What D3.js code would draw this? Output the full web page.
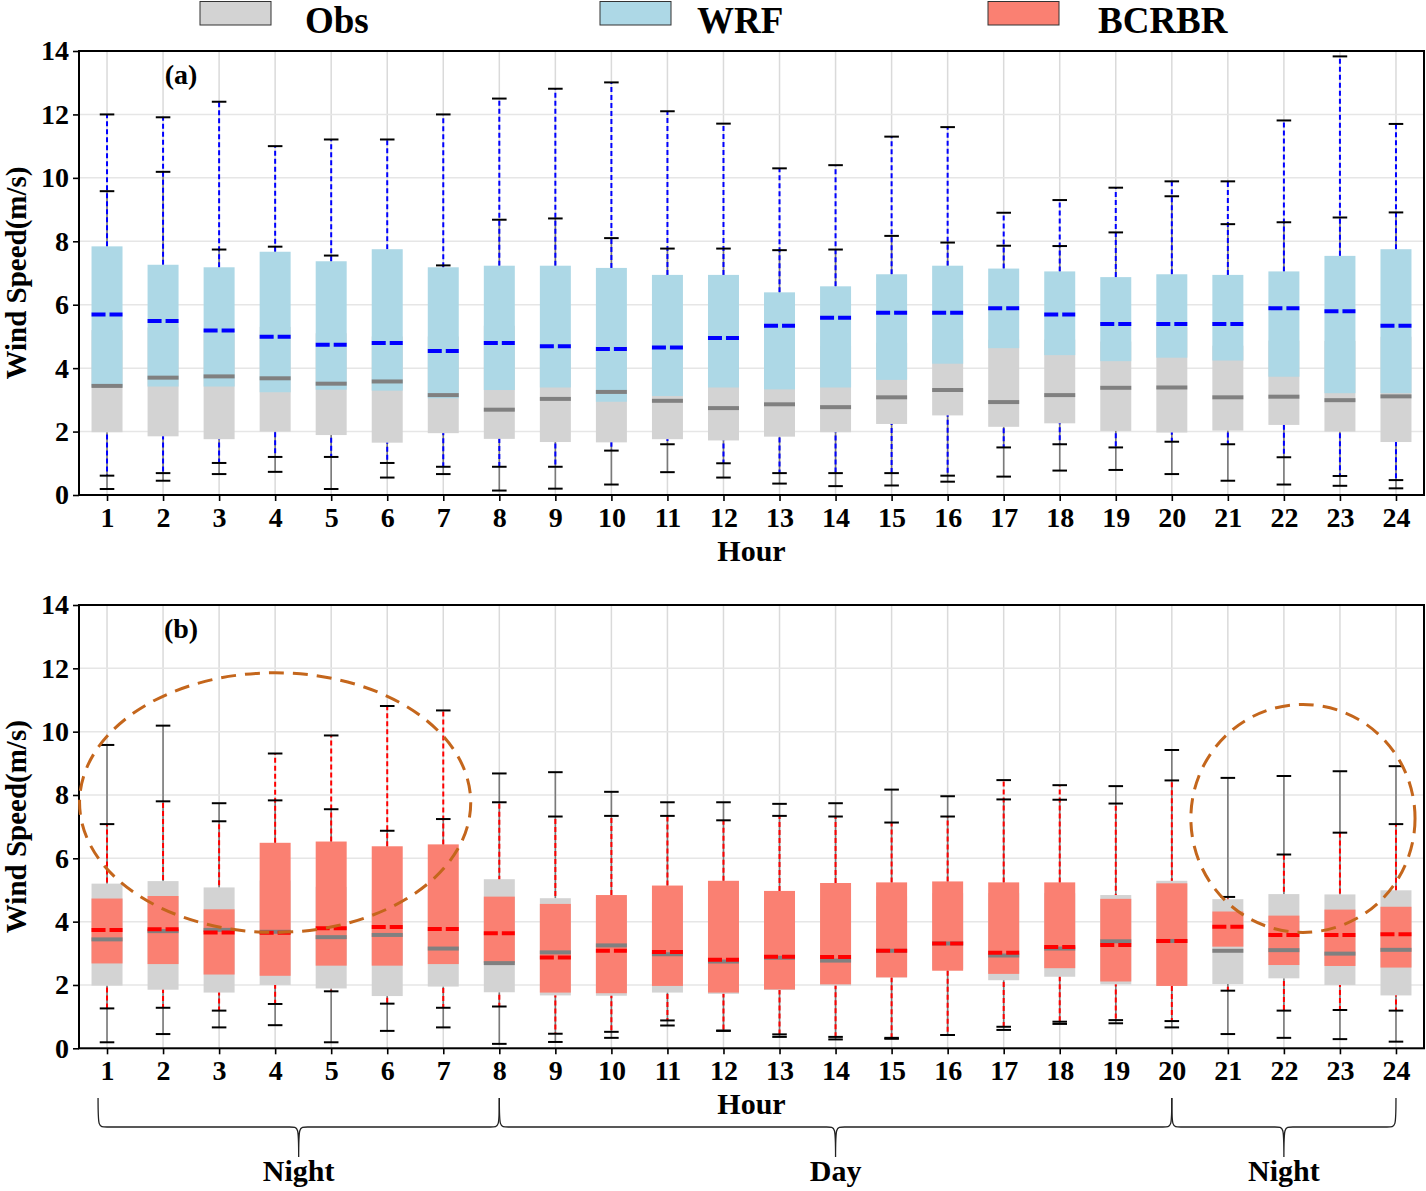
<!DOCTYPE html>
<html><head><meta charset="utf-8">
<script src="https://cdn.jsdelivr.net/npm/d3@7"></script>
<style>
body{margin:0;background:#fff}
svg{display:block}
text{font-family:"Liberation Serif","Times New Roman",serif;font-weight:bold;fill:#000}
</style>
</head><body>
<svg id="c" width="1426" height="1191"></svg>
<script>
// ---------- DATA ----------
const hours = [1,2,3,4,5,6,7,8,9,10,11,12,13,14,15,16,17,18,19,20,21,22,23,24];
const yTicks = [0,2,4,6,8,10,12,14];
const seriesNames = ["Obs","WRF","BCRBR"];

// Observations
const obsLow  = [0.19,0.45,0.66,0.73,0.19,0.55,0.66,0.14,0.20,0.33,0.72,0.55,0.36,0.28,0.30,0.42,0.58,0.77,0.79,0.66,0.45,0.33,0.29,0.21];
const obsQ1   = [1.98,1.85,1.76,2.00,1.89,1.65,1.95,1.77,1.67,1.66,1.76,1.72,1.84,1.98,2.24,2.51,2.15,2.26,2.02,1.97,2.03,2.21,2.00,1.67];
const obsMed  = [3.44,3.70,3.74,3.68,3.51,3.58,3.15,2.69,3.03,3.25,2.97,2.74,2.86,2.77,3.08,3.31,2.93,3.15,3.38,3.39,3.08,3.10,2.99,3.11];
const obsQ3   = [5.20,5.28,5.08,5.30,5.10,5.00,5.00,5.34,4.74,4.70,4.60,4.60,4.60,4.70,4.80,4.90,4.90,4.90,4.84,5.29,4.71,4.87,4.86,4.99];
const obsHigh = [9.58,10.19,7.74,7.83,7.55,6.87,7.24,8.68,8.72,8.10,7.77,7.77,7.72,7.74,8.17,7.96,7.86,7.85,8.28,9.42,8.54,8.60,8.75,8.91];

// WRF
const wrfLow  = [0.61,0.69,1.01,1.20,1.20,1.01,0.89,0.89,0.89,1.40,1.60,1.00,0.69,0.69,0.69,0.61,1.50,1.60,1.50,1.68,1.60,1.19,0.60,0.47];
const wrfQ1   = [3.42,3.42,3.42,3.24,3.32,3.29,3.05,3.31,3.39,2.94,3.12,3.39,3.33,3.39,3.63,4.14,4.63,4.41,4.22,4.33,4.24,3.73,3.21,3.21];
const wrfMed  = [5.69,5.49,5.19,4.99,4.74,4.79,4.54,4.79,4.69,4.60,4.65,4.95,5.34,5.59,5.75,5.75,5.89,5.69,5.39,5.39,5.39,5.89,5.79,5.34];
const wrfQ3   = [7.84,7.26,7.18,7.67,7.37,7.75,7.18,7.23,7.23,7.16,6.94,6.94,6.39,6.58,6.96,7.23,7.14,7.05,6.87,6.96,6.94,7.05,7.54,7.75];
const wrfHigh = [12.00,11.91,12.40,11.00,11.21,11.21,12.00,12.50,12.81,13.01,12.10,11.71,10.30,10.40,11.30,11.60,8.90,9.30,9.69,9.89,9.89,11.81,13.83,11.70];

// BCRBR
const bcLow  = [1.26,1.28,1.19,1.40,1.80,1.41,1.28,1.32,0.46,0.52,0.88,0.56,0.44,0.36,0.33,0.42,0.68,0.84,0.89,0.86,1.82,1.19,1.21,1.19];
const bcQ1   = [2.68,2.66,2.33,2.29,2.61,2.61,2.66,2.70,1.76,1.74,1.97,1.76,1.86,2.02,2.24,2.45,2.35,2.53,2.11,1.97,3.21,2.63,2.60,2.55];
const bcMed  = [3.74,3.76,3.66,3.65,3.79,3.83,3.77,3.63,2.87,3.08,3.04,2.80,2.89,2.88,3.08,3.31,3.02,3.20,3.26,3.39,3.84,3.58,3.58,3.60];
const bcQ3   = [4.73,4.81,4.39,6.49,6.53,6.38,6.44,4.79,4.56,4.84,5.14,5.29,4.97,5.22,5.24,5.27,5.24,5.24,4.72,5.21,4.32,4.19,4.38,4.47];
const bcHigh = [7.08,7.80,7.17,9.31,9.88,10.81,10.67,7.77,7.32,7.34,7.34,7.20,7.34,7.32,7.13,7.32,8.47,8.31,7.73,8.46,4.78,6.12,6.81,7.08];

// Period braces under panel (b)
const periodLabels = ["Night","Day","Night"];
const periodStart  = [0.84, 8, 20];
const periodEnd    = [8, 20, 24];

// Highlight ellipses in panel (b) (data units: hour, m/s)
const ellipseCx = [4.0, 22.34];
const ellipseCy = [7.76, 7.26];
const ellipseRx = [3.49, 2.0];
const ellipseRy = [4.1, 3.6];

// ---------- DRAWING ----------
const svg = d3.select("#c");
const x = d3.scaleLinear().domain([0.5, 24.5]).range([79, 1424]);
const step = x(2) - x(1);
const boxW = step * 0.553;
const capW = step * 0.26;

function rows(low, q1, med, q3, high) {
  return hours.map((h, i) => ({h, low: low[i], q1: q1[i], med: med[i], q3: q3[i], high: high[i]}));
}
const obsRows = rows(obsLow, obsQ1, obsMed, obsQ3, obsHigh);
const wrfRows = rows(wrfLow, wrfQ1, wrfMed, wrfQ3, wrfHigh);
const bcRows  = rows(bcLow, bcQ1, bcMed, bcQ3, bcHigh);

const colObs = "#d3d3d3", colWrf = "#add8e6", colBc = "#fa8072";

function drawPanel(p) {
  const y = d3.scaleLinear().domain([0, 14]).range([p.bottom, p.top]);
  const g = svg.append("g");

  // grid
  g.selectAll("line.vg").data(hours).join("line").attr("class", "vg")
    .attr("x1", d => x(d)).attr("x2", d => x(d)).attr("y1", p.top).attr("y2", p.bottom)
    .attr("stroke", "#dadada").attr("stroke-width", 1.5);
  g.selectAll("line.hg").data(yTicks).join("line").attr("class", "hg")
    .attr("x1", x.range()[0]).attr("x2", x.range()[1]).attr("y1", d => y(d)).attr("y2", d => y(d))
    .attr("stroke", "#e6e6e6").attr("stroke-width", 1.5);

  const segs = rs => rs.flatMap(r => [{h: r.h, a: r.q1, b: r.low}, {h: r.h, a: r.q3, b: r.high}]);

  // obs whiskers
  g.selectAll("line.ow").data(segs(obsRows)).join("line").attr("class", "ow")
    .attr("x1", d => x(d.h)).attr("x2", d => x(d.h)).attr("y1", d => y(d.a)).attr("y2", d => y(d.b))
    .attr("stroke", "#7a7a7a").attr("stroke-width", 1.6);
  // model whiskers
  g.selectAll("line.mw").data(segs(p.model)).join("line").attr("class", "mw")
    .attr("x1", d => x(d.h)).attr("x2", d => x(d.h)).attr("y1", d => y(d.a)).attr("y2", d => y(d.b))
    .attr("stroke", p.color).attr("stroke-width", 2).attr("stroke-dasharray", "5,3");

  // caps (under the boxes)
  const caps = rs => rs.flatMap(r => [{h: r.h, v: r.low}, {h: r.h, v: r.high}]);
  g.selectAll("line.cap").data(caps(obsRows).concat(caps(p.model))).join("line").attr("class", "cap")
    .attr("x1", d => x(d.h) - capW / 2).attr("x2", d => x(d.h) + capW / 2)
    .attr("y1", d => y(d.v)).attr("y2", d => y(d.v))
    .attr("stroke", "#000").attr("stroke-width", 2);

  // boxes
  const boxes = (rs, fill, cls) => g.selectAll("rect." + cls).data(rs).join("rect").attr("class", cls)
    .attr("x", d => x(d.h) - boxW / 2).attr("width", boxW)
    .attr("y", d => y(d.q3)).attr("height", d => y(d.q1) - y(d.q3))
    .attr("fill", fill);
  boxes(obsRows, colObs, "ob");
  boxes(p.model, p.fill, "mb");

  // medians
  g.selectAll("line.om").data(obsRows).join("line").attr("class", "om")
    .attr("x1", d => x(d.h) - boxW / 2).attr("x2", d => x(d.h) + boxW / 2)
    .attr("y1", d => y(d.med)).attr("y2", d => y(d.med))
    .attr("stroke", "#808080").attr("stroke-width", 4);
  g.selectAll("line.mm").data(p.model).join("line").attr("class", "mm")
    .attr("x1", d => x(d.h) - boxW / 2).attr("x2", d => x(d.h) + boxW / 2)
    .attr("y1", d => y(d.med)).attr("y2", d => y(d.med))
    .attr("stroke", p.color).attr("stroke-width", 4).attr("stroke-dasharray", "14,4");

  // axes
  const ax = g.append("g").attr("transform", `translate(0,${p.bottom})`)
    .call(d3.axisBottom(x).tickValues(hours).tickSize(6).tickPadding(6).tickFormat(d3.format("d")));
  const ay = g.append("g").attr("transform", `translate(${x.range()[0]},0)`)
    .call(d3.axisLeft(y).tickValues(yTicks).tickSize(6).tickPadding(4).tickFormat(d3.format("d")));
  [ax, ay].forEach(a => {
    a.select(".domain").remove();
    a.selectAll(".tick line").attr("stroke", "#000").attr("stroke-width", 1.6);
    a.selectAll(".tick text").style("font-family", '"Liberation Serif","Times New Roman",serif')
      .style("font-weight", "bold").style("font-size", "28px").attr("fill", "#000");
  });

  // frame
  g.append("rect").attr("x", x.range()[0]).attr("y", p.top)
    .attr("width", x.range()[1] - x.range()[0]).attr("height", p.bottom - p.top)
    .attr("fill", "none").attr("stroke", "#000").attr("stroke-width", 2);

  // panel label
  g.append("text").attr("x", 181).attr("y", p.top + 33).attr("text-anchor", "middle")
    .style("font-size", "28px").text(p.label);

  // axis titles
  g.append("text").attr("x", (x.range()[0] + x.range()[1]) / 2).attr("y", p.bottom + 66)
    .attr("text-anchor", "middle").style("font-size", "30px").text("Hour");
  g.append("text").attr("transform", `translate(26,${(p.top + p.bottom) / 2}) rotate(-90)`)
    .attr("text-anchor", "middle").style("font-size", "29px").text("Wind Speed(m/s)");

  return y;
}

drawPanel({top: 51, bottom: 495, label: "(a)", model: wrfRows, fill: colWrf, color: "#0000ff"});
const yb = drawPanel({top: 605, bottom: 1048.3, label: "(b)", model: bcRows, fill: colBc, color: "#ff0000"});

// ellipses
svg.append("g").selectAll("ellipse").data(ellipseCx.map((c, i) => i)).join("ellipse")
  .attr("cx", i => x(ellipseCx[i])).attr("cy", i => yb(ellipseCy[i]))
  .attr("rx", i => ellipseRx[i] * step).attr("ry", i => yb(0) - yb(ellipseRy[i]))
  .attr("fill", "none").attr("stroke", "#c4661c").attr("stroke-width", 3).attr("stroke-dasharray", "15,9");

// legend
const legX = [200, 600, 988];
const legTextX = [305, 697, 1098];
const legFill = [colObs, colWrf, colBc];
const lg = svg.append("g");
seriesNames.forEach((n, i) => {
  lg.append("rect").attr("x", legX[i]).attr("y", 1.5).attr("width", 71).attr("height", 23.5)
    .attr("fill", legFill[i]).attr("stroke", "#333").attr("stroke-width", 1);
  lg.append("text").attr("x", legTextX[i]).attr("y", 33).style("font-size", "37px").text(n);
});

// braces
const bTop = 1098, bMid = 1127, bTip = 1157, r = 9;
const bg = svg.append("g");
periodLabels.forEach((lab, i) => {
  const x1 = x(periodStart[i]), x2 = x(periodEnd[i]), xm = (x1 + x2) / 2;
  const path = `M${x1},${bTop} C${x1},${bMid} ${x1},${bMid} ${x1 + r},${bMid} L${xm - r},${bMid} ` +
    `C${xm},${bMid} ${xm},${bMid} ${xm},${bTip} C${xm},${bMid} ${xm},${bMid} ${xm + r},${bMid} ` +
    `L${x2 - r},${bMid} C${x2},${bMid} ${x2},${bMid} ${x2},${bTop}`;
  bg.append("path").attr("d", path).attr("fill", "none").attr("stroke", "#222").attr("stroke-width", 1.3);
  bg.append("text").attr("x", xm).attr("y", 1181).attr("text-anchor", "middle")
    .style("font-size", "30px").text(lab);
});
</script>
</body></html>
